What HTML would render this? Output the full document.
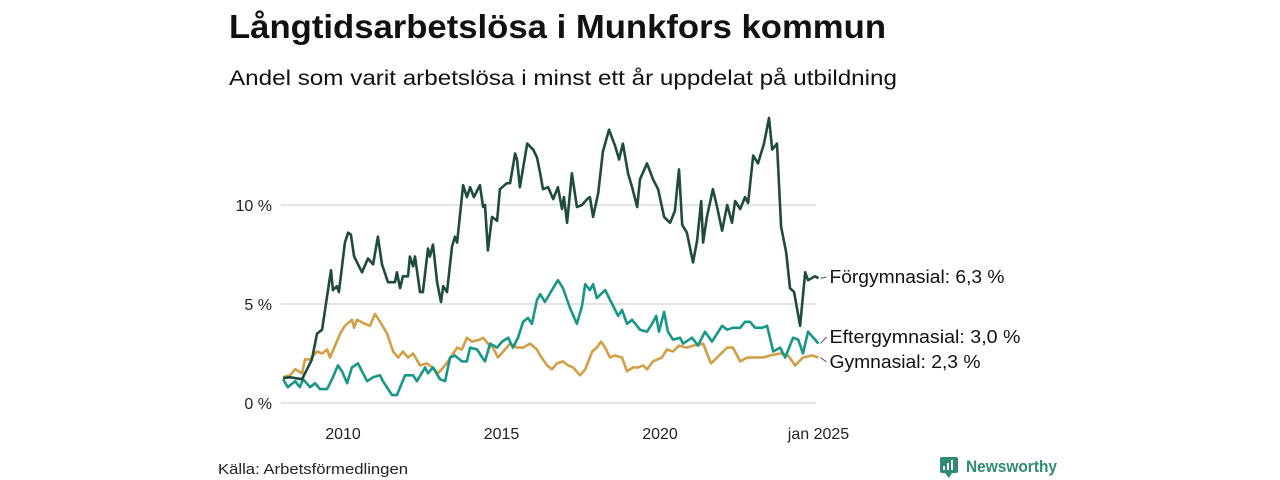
<!DOCTYPE html>
<html><head><meta charset="utf-8">
<style>
html,body{margin:0;padding:0;background:#fff;width:1280px;height:480px;overflow:hidden;font-family:"Liberation Sans",sans-serif;color:#111}
svg{display:block}
</style></head>
<body>
<svg id="chart" width="1280" height="480">
<text x="229" y="38" font-size="33" font-weight="bold" fill="#111" textLength="657" lengthAdjust="spacingAndGlyphs">Långtidsarbetslösa i Munkfors kommun</text>
<text x="229" y="85" font-size="21" fill="#111" textLength="668" lengthAdjust="spacingAndGlyphs">Andel som varit arbetslösa i minst ett år uppdelat på utbildning</text>
<g id="grid"></g>
<g id="yt"></g>
<g id="xt"></g>
<g id="lines"></g>
<g id="labels"></g>
<text x="218" y="474" font-size="15" fill="#222" textLength="190" lengthAdjust="spacingAndGlyphs">Källa: Arbetsförmedlingen</text>
<g>
<rect x="940" y="457" width="18" height="16" rx="2" fill="#2f8a76"/>
<path d="M945 473 L949 478 L952 473 Z" fill="#2f8a76"/>
<rect x="943" y="466" width="2" height="4" fill="#fff"/><rect x="947" y="463" width="2" height="7" fill="#fff"/><rect x="951" y="460" width="2" height="10" fill="#fff"/>
<text x="966" y="472" font-size="17" font-weight="bold" fill="#2f8a76" textLength="91" lengthAdjust="spacingAndGlyphs">Newsworthy</text>
</g>
</svg>
<script>
const yTicks=[0,5,10];
const yTickLabels=["0 %","5 %","10 %"];
const xTicks=[2010,2015,2020,2025];
const xTickLabels=["2010","2015","2020","jan 2025"];
const seriesNames=["Förgymnasial","Eftergymnasial","Gymnasial"];
const seriesLabels=["Förgymnasial: 6,3 %","Eftergymnasial: 3,0 %","Gymnasial: 2,3 %"];
const forgYears=[2008.11,2008.33,2008.71,2009.02,2009.18,2009.34,2009.50,2009.62,2009.68,2009.81,2009.87,2010.06,2010.16,2010.25,2010.35,2010.60,2010.79,2010.95,2011.10,2011.23,2011.42,2011.64,2011.70,2011.80,2011.89,2012.05,2012.11,2012.21,2012.27,2012.43,2012.52,2012.68,2012.74,2012.84,2012.97,2013.09,2013.16,2013.28,2013.44,2013.53,2013.60,2013.79,2013.91,2014.01,2014.13,2014.32,2014.42,2014.48,2014.57,2014.70,2014.86,2014.95,2015.17,2015.27,2015.43,2015.49,2015.58,2015.81,2016.00,2016.12,2016.22,2016.31,2016.47,2016.63,2016.78,2016.91,2016.97,2017.07,2017.22,2017.38,2017.54,2017.70,2017.79,2017.89,2018.05,2018.20,2018.39,2018.58,2018.71,2018.83,2018.99,2019.12,2019.28,2019.37,2019.59,2019.78,2019.94,2020.13,2020.32,2020.47,2020.60,2020.70,2020.85,2021.04,2021.17,2021.30,2021.36,2021.48,2021.67,2021.80,2021.96,2022.12,2022.27,2022.37,2022.53,2022.68,2022.78,2022.94,2023.09,2023.28,2023.44,2023.54,2023.69,2023.82,2023.98,2024.10,2024.23,2024.42,2024.58,2024.67,2024.89,2025.0];
const forgValues=[1.26,1.3,1.2,2.2,3.5,3.7,5.4,6.7,5.7,5.9,5.6,8.1,8.6,8.5,7.4,6.6,7.3,7.0,8.4,7.0,6.1,6.1,6.6,5.8,6.4,6.4,7.4,6.9,7.4,5.6,5.6,7.8,7.4,8.0,6.1,5.1,5.9,5.6,7.9,8.4,8.1,11.0,10.4,10.9,10.4,11.0,9.9,10.0,7.7,9.4,9.2,10.8,11.1,11.1,12.6,12.3,10.9,13.1,12.8,12.4,11.6,10.8,10.9,10.3,10.9,9.8,10.4,9.1,11.6,9.9,10.0,10.3,10.4,9.4,10.6,12.7,13.8,13.0,12.3,13.1,11.6,10.9,9.9,11.3,12.1,11.3,10.8,9.4,9.1,9.7,11.8,9.0,8.6,7.1,8.2,10.2,8.1,9.4,10.8,9.9,8.7,10.0,9.1,10.2,9.8,10.4,10.1,12.5,12.1,13.1,14.4,12.8,13.1,8.9,7.6,5.8,5.6,3.9,6.6,6.2,6.4,6.3];
const efterYears=[2008.11,2008.26,2008.49,2008.64,2008.74,2008.96,2009.12,2009.27,2009.50,2009.68,2009.84,2009.97,2010.13,2010.28,2010.47,2010.76,2010.95,2011.17,2011.26,2011.55,2011.70,2011.96,2012.21,2012.33,2012.59,2012.68,2012.84,2013.06,2013.22,2013.38,2013.53,2013.75,2013.91,2014.01,2014.23,2014.39,2014.48,2014.64,2014.86,2015.02,2015.21,2015.36,2015.52,2015.68,2015.84,2015.96,2016.12,2016.22,2016.37,2016.59,2016.78,2016.94,2017.16,2017.38,2017.54,2017.64,2017.79,2017.89,2018.01,2018.27,2018.49,2018.68,2018.80,2018.96,2019.12,2019.37,2019.59,2019.75,2019.88,2019.97,2020.13,2020.25,2020.41,2020.63,2020.73,2021.01,2021.20,2021.42,2021.64,2021.96,2022.12,2022.30,2022.53,2022.68,2022.84,2023.00,2023.22,2023.38,2023.57,2023.79,2023.95,2024.20,2024.36,2024.51,2024.67,2025.0];
const efterValues=[1.2,0.8,1.1,0.8,1.2,0.8,1.0,0.7,0.7,1.3,1.9,1.6,1.0,1.8,2.0,1.1,1.3,1.4,1.1,0.4,0.4,1.4,1.4,1.1,1.8,1.5,1.8,1.2,1.1,2.3,2.4,2.1,2.1,2.8,2.7,2.3,2.1,3.0,2.8,3.1,3.3,2.8,3.3,4.1,4.3,4.0,5.2,5.5,5.1,5.7,6.2,5.8,4.8,4.0,4.9,6.0,5.7,6.0,5.3,5.7,5.0,4.4,4.7,4.0,4.2,3.7,3.6,4.0,4.4,3.6,4.6,3.6,3.2,3.3,3.0,3.3,2.9,3.6,3.1,3.9,3.7,3.8,3.8,4.1,4.1,3.8,3.8,3.9,2.6,2.8,2.3,3.3,3.2,2.5,3.6,3.0];
const gymYears=[2008.11,2008.33,2008.49,2008.71,2008.80,2008.96,2009.18,2009.34,2009.50,2009.59,2009.75,2009.91,2010.06,2010.28,2010.35,2010.44,2010.69,2010.85,2011.01,2011.17,2011.39,2011.58,2011.74,2011.89,2012.05,2012.21,2012.43,2012.65,2012.81,2013.00,2013.22,2013.44,2013.60,2013.75,2013.91,2014.07,2014.32,2014.42,2014.57,2014.73,2014.89,2015.11,2015.27,2015.49,2015.68,2015.90,2016.12,2016.22,2016.44,2016.59,2016.75,2016.94,2017.10,2017.26,2017.48,2017.64,2017.86,2018.01,2018.14,2018.27,2018.42,2018.58,2018.80,2018.96,2019.15,2019.31,2019.47,2019.59,2019.78,2020.06,2020.22,2020.41,2020.60,2020.85,2021.04,2021.36,2021.61,2021.80,2022.12,2022.30,2022.53,2022.75,2022.94,2023.09,2023.25,2023.47,2023.79,2024.04,2024.26,2024.51,2024.80,2025.0];
const gymValues=[1.3,1.4,1.7,1.5,2.2,2.2,2.6,2.5,2.7,2.3,2.9,3.5,3.9,4.2,3.8,4.2,4.0,3.9,4.5,4.1,3.5,2.6,2.3,2.6,2.3,2.5,1.9,2.0,1.8,1.5,1.9,2.4,2.8,2.7,3.3,3.1,3.2,3.3,3.0,2.8,2.3,2.7,3.0,2.8,2.8,3.0,2.7,2.4,1.9,1.7,2.0,2.1,1.9,1.8,1.4,1.7,2.6,2.8,3.1,2.8,2.3,2.4,2.3,1.6,1.8,1.8,1.9,1.7,2.1,2.3,2.7,2.6,2.9,2.8,2.9,3.0,2.0,2.3,2.8,2.8,2.1,2.3,2.3,2.3,2.3,2.4,2.5,2.4,1.9,2.3,2.4,2.3];

const NS="http://www.w3.org/2000/svg";
const X0=281,PX_PER_YEAR=31.7;
function xs(t){return 343+(t-2010)*PX_PER_YEAR;}
function ys(v){return 403-v*19.8;}
function mk(tag,attrs,parent){const e=document.createElementNS(NS,tag);for(const k in attrs)e.setAttribute(k,attrs[k]);parent.appendChild(e);return e;}
const grid=document.getElementById('grid'),yt=document.getElementById('yt'),xt=document.getElementById('xt'),lines=document.getElementById('lines'),labels=document.getElementById('labels');
yTicks.forEach((v,i)=>{
  const l=mk('line',{x1:X0,x2:816,y1:ys(v),y2:ys(v),stroke:'#dcdcdc','stroke-width':1.5},grid);
  
  
  const t=mk('text',{x:272,y:ys(v)+6,'text-anchor':'end','font-size':16,fill:'#222'},yt);
  t.textContent=yTickLabels[i];
  
  
});
xTicks.forEach((v,i)=>{
  const t=mk('text',{x:xs(v),y:439,'text-anchor':'middle','font-size':16,fill:'#222'},xt);
  t.textContent=xTickLabels[i];
  
  
});
const series=[[forgYears,forgValues,'#1f4a3e'],[efterYears,efterValues,'#17968a'],[gymYears,gymValues,'#d09f47']];
const order=[2,1,0];
order.forEach(si=>{
  const [yr,vals,col]=series[si];
  const d=yr.map((t,i)=>(i?'L':'M')+xs(t).toFixed(1)+' '+ys(vals[i]).toFixed(1)).join(' ');
  const p=mk('path',{d:d,fill:'none',stroke:col,'stroke-width':2.6,'stroke-linejoin':'round'},lines);
  
  
});
const labelY=[277,337,362];
const labelW=[175,191,151];
series.forEach((s,si)=>{
  const yr=s[0],vals=s[1];
  const ex=xs(yr[yr.length-1]),ey=ys(vals[vals.length-1]);
  mk('line',{x1:ex+2,y1:ey,x2:ex+8,y2:labelY[si],stroke:'#555','stroke-width':1},labels);
  const t=mk('text',{x:ex+11,y:labelY[si]+6,'font-size':18,fill:'#111',textLength:labelW[si],lengthAdjust:'spacingAndGlyphs'},labels);
  t.textContent=seriesLabels[si];
  
  
});
</script>
</body></html>
